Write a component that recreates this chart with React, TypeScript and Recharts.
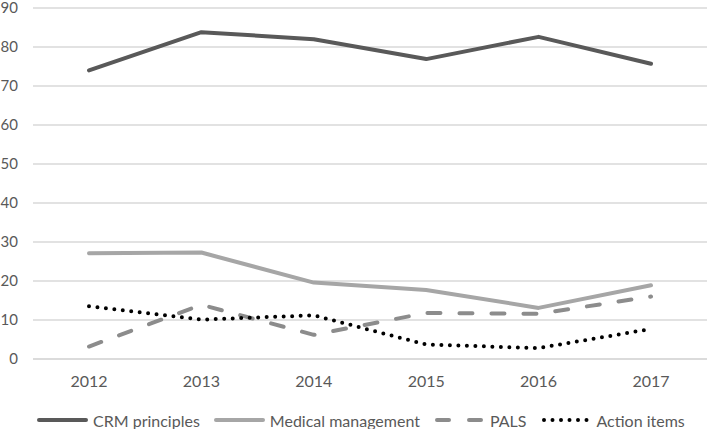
import { LineChart, Line, XAxis, YAxis, CartesianGrid } from 'recharts'

const years = ['2012', '2013', '2014', '2015', '2016', '2017']
const crmPrinciples = [74.0, 83.8, 82.0, 76.9, 82.6, 75.7]
const medicalManagement = [27.1, 27.3, 19.6, 17.7, 13.1, 18.9]
const pals = [3.2, 13.9, 6.2, 11.8, 11.6, 16.0]
const actionItems = [13.5, 10.1, 11.2, 3.7, 2.8, 7.7]
const yTicks = [0, 10, 20, 30, 40, 50, 60, 70, 80, 90]

const data = years.map((year, i) => ({
  year,
  crm: crmPrinciples[i],
  medical: medicalManagement[i],
  pals: pals[i],
  action: actionItems[i],
}))

const series = [
  { key: 'crm', name: 'CRM principles', color: '#595959', dash: undefined as string | undefined },
  { key: 'medical', name: 'Medical management', color: '#a6a6a6', dash: undefined as string | undefined },
  { key: 'pals', name: 'PALS', color: '#8c8c8c', dash: '13 19' },
  { key: 'action', name: 'Action items', color: '#000000', dash: '0 8.5' },
]

const font = 'Lato, "Open Sans", sans-serif'

// legend drawn beside the chart so it can sit under the plot like the original
function ChartLegend() {
  return (
    <div
      style={{
        position: 'absolute',
        left: 37,
        top: 409,
        display: 'flex',
        alignItems: 'center',
        height: 22,
        fontFamily: font,
        fontSize: 16,
        color: '#595959',
        whiteSpace: 'nowrap',
      }}
    >
      {series.map((s, i) => (
        <div key={s.key} style={{ display: 'flex', alignItems: 'center', marginLeft: i === 0 ? 0 : 14 }}>
          <svg width={51} height={8} style={{ display: 'block', marginRight: 5 }}>
            <line
              x1={s.dash ? 3 : 2}
              y1={4}
              x2={49}
              y2={4}
              stroke={s.color}
              strokeWidth={4}
              strokeLinecap="round"
              strokeDasharray={s.dash === '13 19' ? '12 20' : s.dash}
            />
          </svg>
          <span>{s.name}</span>
        </div>
      ))}
    </div>
  )
}

export default function App() {
  return (
    <div style={{ position: 'absolute', left: 0, top: 0, width: 709, height: 429, background: '#fff' }}>
      <LineChart width={709} height={429} data={data} margin={{ top: 8, right: 2, left: 0, bottom: 24 }}>
        <CartesianGrid horizontal vertical={false} stroke="#d9d9d9" strokeWidth={1.5} />
        <XAxis
          dataKey="year"
          padding={{ left: 56, right: 56 }}
          axisLine={{ stroke: '#d9d9d9', strokeWidth: 1.5 }}
          tickLine={false}
          tickSize={0}
          tickMargin={17}
          height={46}
          tick={{ fill: '#595959', fontSize: 16, fontFamily: font }}
        />
        <YAxis
          domain={[0, 90]}
          ticks={yTicks}
          interval={0}
          axisLine={false}
          tickLine={false}
          tickSize={0}
          tickMargin={15}
          width={33}
          tick={{ fill: '#595959', fontSize: 15, fontFamily: font }}
        />
        {series.map((s) => (
          <Line
            key={s.key}
            type="linear"
            dataKey={s.key}
            name={s.name}
            stroke={s.color}
            strokeWidth={4}
            strokeDasharray={s.dash}
            strokeLinecap="round"
            strokeLinejoin="round"
            dot={false}
            activeDot={false}
            isAnimationActive={false}
          />
        ))}
      </LineChart>
      <ChartLegend />
    </div>
  )
}
